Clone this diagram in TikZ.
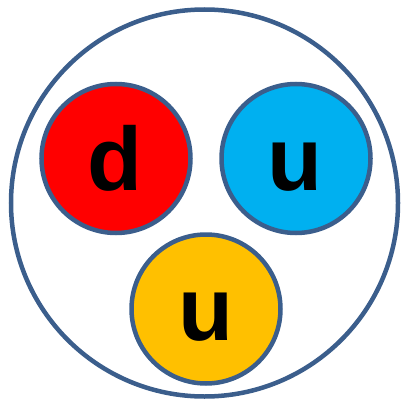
\documentclass[tikz,border=0pt]{standalone}
\usepackage{fontspec}
\setmainfont{Liberation Sans}
\usepackage{xcolor}
\usepackage{tikz}

\definecolor{rim}{HTML}{3B5E8C}
\definecolor{qred}{HTML}{FF0000}
\definecolor{qblue}{HTML}{00B0F0}
\definecolor{qyellow}{HTML}{FFC000}

\begin{document}
\begin{tikzpicture}[
  x=1pt, y=-1pt,
  quark/.style={circle, draw=rim, line width=4.5pt, minimum size=149pt, inner sep=0pt},
  flavour/.style={font=\fontsize{90}{90}\selectfont\bfseries, anchor=base, inner sep=0pt}
]
\useasboundingbox (0,0) rectangle (400,401);
\node[circle, draw=rim, line width=4.5pt, minimum size=387pt, inner sep=0pt] (proton) at (204.5,203) {};

\node[quark, fill=qred] (down) at (116,158.5) {};
\node[quark, fill=qblue] (upa) at (296,158.5) {};
\node[quark, fill=qyellow] (upb) at (206,309) {};

\node[flavour] (downlbl) at (115,190.7) {d};
\node[flavour] (upalbl) at (295,190.7) {u};
\node[flavour] (upblbl) at (206,340.7) {u};
\end{tikzpicture}
\end{document}
